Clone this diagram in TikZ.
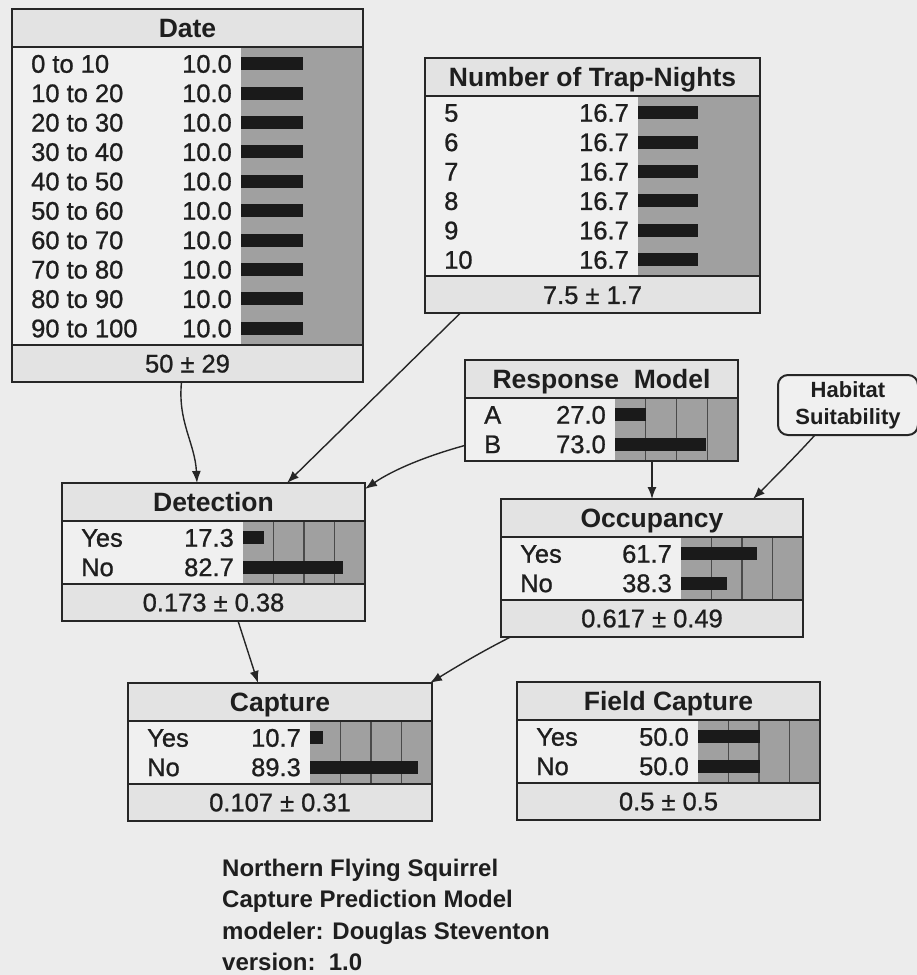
\documentclass[tikz,border=0pt]{standalone}
\usepackage{fontspec}
\setmainfont{Liberation Sans}
\newfontfamily\statefont[FakeBold=0.9]{Liberation Sans}
\usetikzlibrary{arrows.meta}
\definecolor{pagec}{HTML}{ECECEC}
\definecolor{titlec}{HTML}{E3E3E3}
\definecolor{labc}{HTML}{F0F0F0}
\definecolor{barreg}{HTML}{A0A0A0}
\definecolor{barc}{HTML}{1A1A1A}
\definecolor{linec}{HTML}{262626}
\definecolor{gridc}{HTML}{4A4A4A}
\definecolor{txtc}{HTML}{1E1E1E}
\tikzset{
  frame/.style={draw=linec, line width=2pt, inner sep=0pt, outer sep=0pt},
  ttl/.style={anchor=base, inner sep=0pt, text=txtc, font=\bfseries\fontsize{26.5}{30}\selectfont},
  foot/.style={anchor=base, inner sep=0pt, text=txtc, font=\statefont\fontsize{25.5}{30}\selectfont},
  slab/.style={anchor=base west, inner sep=0pt, text=txtc, font=\statefont\fontsize{25.5}{30}\selectfont},
  sval/.style={anchor=base east, inner sep=0pt, text=txtc, font=\statefont\fontsize{25.5}{30}\selectfont},
  conn/.style={draw=linec, line width=1.4pt, -{Latex[length=12pt,width=9pt]}},
  habit/.style={draw=linec, line width=2pt, fill=labc, rounded corners=10pt, align=center,
    minimum width=140pt, minimum height=60pt, inner sep=0pt, outer sep=0pt, text=txtc,
    font=\bfseries\fontsize{22}{27}\selectfont},
  note/.style={anchor=base west, inner sep=0pt, text=txtc, font=\bfseries\fontsize{24}{32}\selectfont}
}
% #1 name #2 left #3 top #4 right #5 split #6 title #7 rows #8 footer #9 grid
\newcommand\NetBox[9]{%
  \def\nbN{#1}\def\nbL{#2}\def\nbS{#5}\def\nbX{#4}%
  \pgfmathsetmacro\nbT{#3+38}%
  \pgfmathsetmacro\nbR{\nbT+#7*29.4+4}%
  \def\nbF{#8}%
  \ifx\nbF\empty \let\nbB\nbR \else \pgfmathsetmacro\nbB{\nbR+37}\fi
  \pgfmathsetmacro\nbW{#4-#2}%
  \pgfmathsetmacro\nbH{\nbB-#3}%
  \fill[titlec] (#2,#3) rectangle (#4,\nbT);
  \fill[labc] (#2,\nbT) rectangle (#5,\nbR);
  \fill[barreg] (#5,\nbT) rectangle (#4,\nbR);
  \ifx\nbF\empty\else \fill[titlec] (#2,\nbR) rectangle (#4,\nbB);\fi
  \ifnum#9=1
    \foreach \k in {1,2,3} {\draw[gridc, line width=1.2pt] ({#5+\k*(#4-#5)/4},\nbT) -- ({#5+\k*(#4-#5)/4},\nbR);}
  \fi
  \draw[linec, line width=2pt] (#2,\nbT) -- (#4,\nbT);
  \ifx\nbF\empty\else
    \draw[linec, line width=2pt] (#2,\nbR) -- (#4,\nbR);
    \node[foot] (#1-foot) at ({(#2+#4)/2},{\nbR+18.5+9}) {#8};
  \fi
  \node[ttl] (#1-title) at ({(#2+#4)/2},{#3+19+9.5}) {#6};
  \node[frame, anchor=north west, minimum width=\nbW pt, minimum height=\nbH pt] (#1) at (#2,#3) {};
}
% #1 index #2 label #3 value #4 bar length
\newcommand\SRow[4]{%
  \pgfmathsetmacro\nbY{\nbT+2+(#1-0.5)*29.4}%
  \fill[barc] (\nbS,\nbY-6.5) rectangle (\nbS+#4,\nbY+6.5);
  \node[slab] (\nbN-l#1) at (\nbL+19,\nbY+9) {#2};
  \node[sval] (\nbN-v#1) at (\nbS-9,\nbY+9) {#3};
}
\begin{document}
\begin{tikzpicture}[x=1pt,y=-1pt]
\fill[pagec] (0,0) rectangle (917,975);
\useasboundingbox (0,0) rectangle (917,975);

% Date
\NetBox{date}{12}{9}{363}{241}{Date}{10}{50 ± 29}{0}
\SRow{1}{0 to 10}{10.0}{62}
\SRow{2}{10 to 20}{10.0}{62}
\SRow{3}{20 to 30}{10.0}{62}
\SRow{4}{30 to 40}{10.0}{62}
\SRow{5}{40 to 50}{10.0}{62}
\SRow{6}{50 to 60}{10.0}{62}
\SRow{7}{60 to 70}{10.0}{62}
\SRow{8}{70 to 80}{10.0}{62}
\SRow{9}{80 to 90}{10.0}{62}
\SRow{10}{90 to 100}{10.0}{62}

% Number of Trap-Nights
\NetBox{trap}{425}{58}{760}{638}{Number of Trap-Nights}{6}{7.5 ± 1.7}{0}
\SRow{1}{5}{16.7}{60}
\SRow{2}{6}{16.7}{60}
\SRow{3}{7}{16.7}{60}
\SRow{4}{8}{16.7}{60}
\SRow{5}{9}{16.7}{60}
\SRow{6}{10}{16.7}{60}

% Response Model
\NetBox{resp}{465}{360}{738}{615}{Response\ \ Model}{2}{}{1}
\SRow{1}{A}{27.0}{31}
\SRow{2}{B}{73.0}{91}

% Habitat Suitability
\node[habit] (habitat) at (848,405) {Habitat\\Suitability};

% Detection
\NetBox{detection}{62}{483}{365}{243}{Detection}{2}{0.173 ± 0.38}{1}
\SRow{1}{Yes}{17.3}{21}
\SRow{2}{No}{82.7}{100}

% Occupancy
\NetBox{occupancy}{501}{499}{803}{681}{Occupancy}{2}{0.617 ± 0.49}{1}
\SRow{1}{Yes}{61.7}{76}
\SRow{2}{No}{38.3}{46}

% Capture
\NetBox{capture}{128}{683}{432}{310}{Capture}{2}{0.107 ± 0.31}{1}
\SRow{1}{Yes}{10.7}{13}
\SRow{2}{No}{89.3}{108}

% Field Capture
\NetBox{field}{517}{682}{820}{698}{Field Capture}{2}{0.5 ± 0.5}{1}
\SRow{1}{Yes}{50.0}{62}
\SRow{2}{No}{50.0}{62}

% connectors
\draw[conn] ([xshift=-6pt]date.south) .. controls +(-4,40) and +(-2,-40) .. ([xshift=-16.5pt]detection.north);
\draw[conn] ([xshift=-132.5pt]trap.south) -- ([xshift=73.5pt]detection.north);
\draw[conn] ([yshift=-35pt]resp.west) .. controls +(-40,11) and +(28,-19) .. ([yshift=-6pt]detection.north east);
\draw[conn] ([xshift=50.5pt]resp.south) -- (occupancy.north);
\draw[conn] ([xshift=-33pt]habitat.south) .. controls +(-20,22) and +(22,-22) .. ([xshift=101pt]occupancy.north);
\draw[conn] ([xshift=24.5pt]detection.south) -- ([xshift=-22pt]capture.north);
\draw[conn] ([xshift=10pt]occupancy.south west) .. controls +(-28,14) and +(26,-16) .. ([xshift=-2pt]capture.north east);

% note
\node[note] (note1) at (222,876) {Northern Flying Squirrel};
\node[note] (note2) at (222,907) {Capture Prediction Model};
\node[note] (note3) at (222,939) {modeler: Douglas Steventon};
\node[note] (note4) at (222,970) {version:\ \ 1.0};
\end{tikzpicture}
\end{document}
